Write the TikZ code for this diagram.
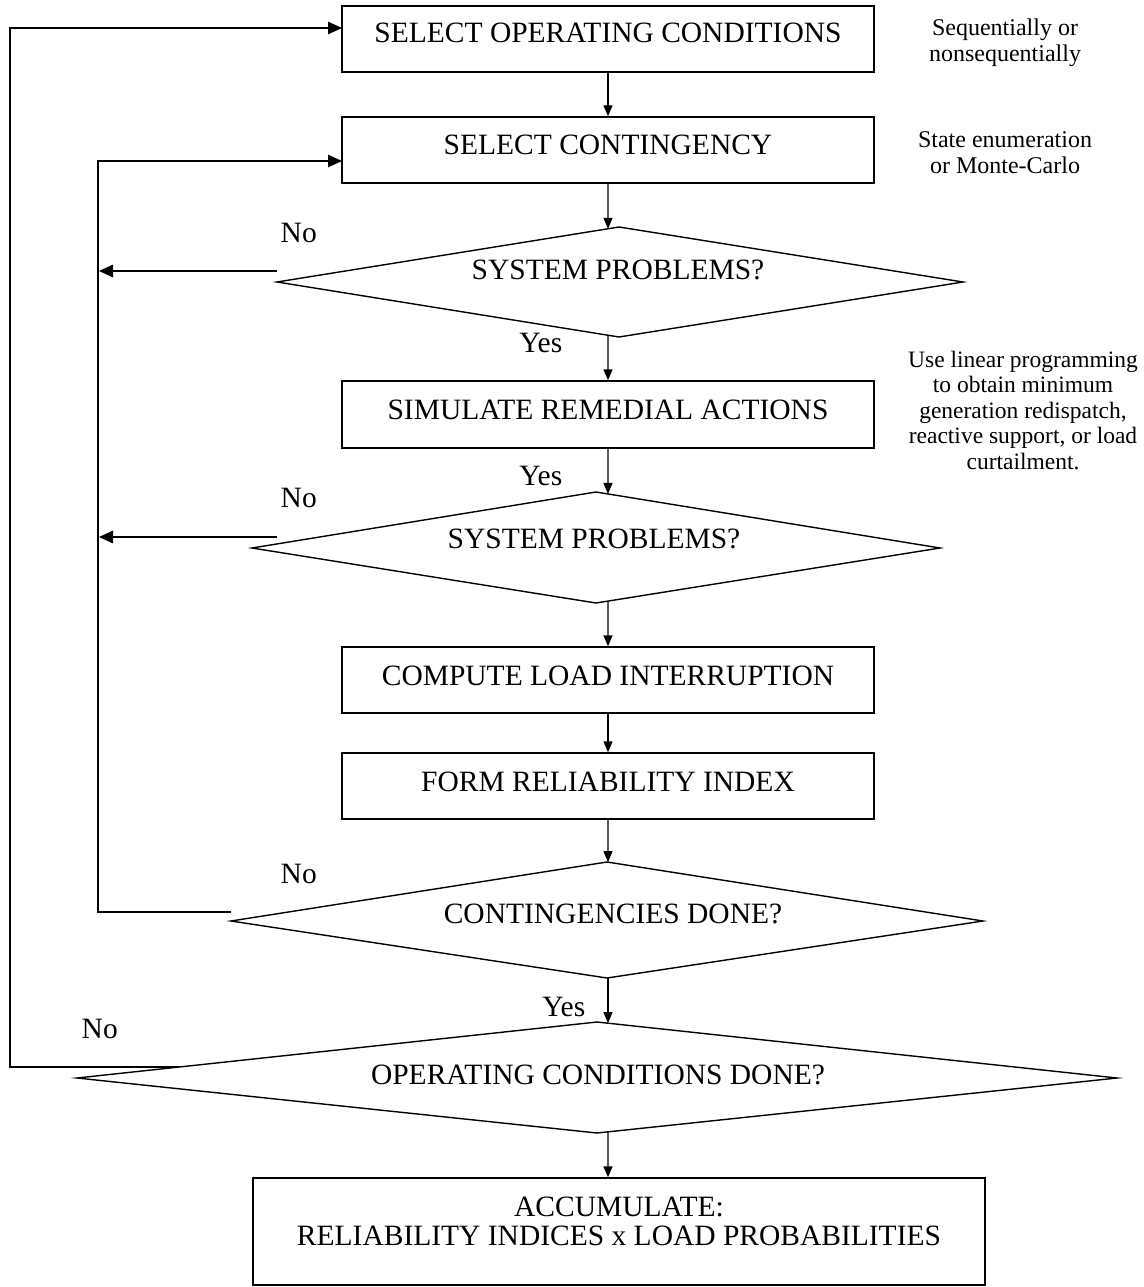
\documentclass[tikz,border=0pt]{standalone}
\usepackage{fontspec}
\setmainfont{Liberation Serif}
\usetikzlibrary{arrows.meta,calc}
\begin{document}
\begin{tikzpicture}[x=1pt,y=-1pt,
  line width=1.4pt,
  box/.style={draw, line width=1.4pt, minimum width=532pt, minimum height=66pt, inner sep=0pt},
  txt/.style={font=\fontsize{29.5}{34}\selectfont, inner sep=0pt, anchor=base},
  lbl/.style={font=\fontsize{29.5}{34}\selectfont, inner sep=0pt},
  note/.style={font=\fontsize{24}{26}\selectfont, inner sep=0pt, align=center, anchor=base},
  varr/.style={-{Triangle[length=11pt,width=9pt]}},
  harr/.style={-{Triangle[length=14pt,width=12.5pt]}},
  shape outline/.style={draw, line width=1.4pt, line join=miter}
]
\useasboundingbox (0,0) rectangle (1143,1287);

% boxes
\node[box] (b1) at (608,39) {};
\node[txt] (t1) at (608,43) {SELECT OPERATING CONDITIONS};
\node[box] (b2) at (608,150) {};
\node[txt] (t2) at (608,154) {SELECT CONTINGENCY};
\node[box, minimum height=67pt] (b3) at (608,414.5) {};
\node[txt] (t3) at (608,419) {SIMULATE REMEDIAL ACTIONS};
\node[box] (b4) at (608,680) {};
\node[txt] (t4) at (608,685) {COMPUTE LOAD INTERRUPTION};
\node[box] (b5) at (608,786) {};
\node[txt] (t5) at (608,791) {FORM RELIABILITY INDEX};
\node[box, minimum width=732pt, minimum height=107pt] (b6) at (619,1231.5) {};
\node[txt] (t6a) at (619,1216) {ACCUMULATE:};
\node[txt] (t6b) at (619,1245) {RELIABILITY INDICES x LOAD PROBABILITIES};
\coordinate (b6in) at (b5.south |- b6.north);

% diamonds
\coordinate (d1l) at (277,282); \coordinate (d1t) at (619,227);
\coordinate (d1r) at (963,282); \coordinate (d1b) at (619,337);
\draw[shape outline] (d1l) -- (d1t) -- (d1r) -- (d1b) -- cycle;
\node[txt] (d1) at (618,279) {SYSTEM PROBLEMS?};

\coordinate (d2l) at (252,548); \coordinate (d2t) at (596,492);
\coordinate (d2r) at (940,548); \coordinate (d2b) at (596,603);
\draw[shape outline] (d2l) -- (d2t) -- (d2r) -- (d2b) -- cycle;
\node[txt] (d2) at (594,548) {SYSTEM PROBLEMS?};

\coordinate (d3l) at (231,921); \coordinate (d3t) at (607,862);
\coordinate (d3r) at (983,921); \coordinate (d3b) at (607,978);
\draw[shape outline] (d3l) -- (d3t) -- (d3r) -- (d3b) -- cycle;
\node[txt] (d3) at (613,923) {CONTINGENCIES DONE?};

\coordinate (d4l) at (77,1078); \coordinate (d4t) at (597,1022);
\coordinate (d4r) at (1117,1078); \coordinate (d4b) at (597,1133);
\draw[shape outline] (d4l) -- (d4t) -- (d4r) -- (d4b) -- cycle;
\node[txt] (d4) at (598,1084) {OPERATING CONDITIONS DONE?};

% vertical connectors (all on the axis x = 608)
\draw[varr] (b1.south) -- (b2.north);
\draw[varr] (b2.south) -- (intersection of b2.south--b3.north and d1l--d1t);
\draw[varr] (intersection of b2.south--b3.north and d1l--d1b) -- (b3.north);
\draw[varr] (b3.south) -- (intersection of b3.south--b4.north and d2t--d2r);
\draw[varr] (intersection of b3.south--b4.north and d2b--d2r) -- (b4.north);
\draw[varr] (b4.south) -- (b5.north);
\draw[varr] (b5.south) -- (intersection of b5.south--b4.north and d3t--d3r);
\draw[varr] (intersection of b5.south--b4.north and d3b--d3r) -- (intersection of b5.south--b4.north and d4t--d4r);
\draw[varr] (intersection of b5.south--b4.north and d4b--d4r) -- (b6in);

% loop connectors
\coordinate (n1) at (277,271);
\coordinate (n2) at (277,537);
\coordinate (n3) at (231,912);
\coordinate (n4) at (179,1067);
\coordinate (in2) at (342,161);
\coordinate (in1) at (342,28);
\draw[harr] (n1) -- (99,271);
\draw[harr] (n2) -- (99,537);
\draw[harr] (n3) -- (98,912) -- (98,161) -- (in2);
\draw[harr] (n4) -- (10,1067) -- (10,28) -- (in1);

% yes/no labels
\node[lbl, anchor=base west] (no1) at (280,242) {No};
\node[lbl, anchor=base west] (no2) at (280,507) {No};
\node[lbl, anchor=base west] (no3) at (280,883) {No};
\node[lbl, anchor=base west] (no4) at (81,1038) {No};
\node[lbl, anchor=base east] (yes1) at (563,352) {Yes};
\node[lbl, anchor=base east] (yes2) at (563,485) {Yes};
\node[lbl, anchor=base east] (yes3) at (586,1016) {Yes};

% annotations (base = baseline of the last line)
\node[note] (a1) at (1005,62) {Sequentially or\\nonsequentially};
\node[note] (a2) at (1005,173) {State enumeration\\or Monte-Carlo};
\node[note, font=\fontsize{23.5}{25.5}\selectfont] (a3) at (1023,469) {Use linear programming\\to obtain minimum\\generation redispatch,\\reactive support, or load\\curtailment.};
\end{tikzpicture}
\end{document}
